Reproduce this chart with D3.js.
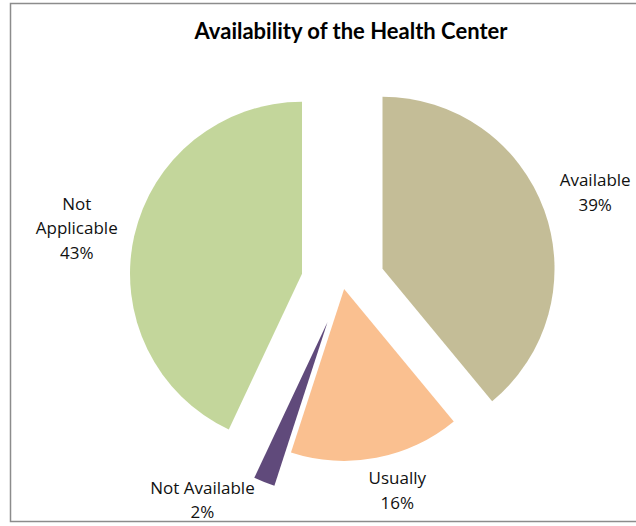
<!DOCTYPE html>
<html>
<head>
<meta charset="utf-8">
<script src="https://cdn.jsdelivr.net/npm/d3@7"></script>
<style>
  body { margin: 0; background: #fff; }
  svg { display: block; font-family: "Open Sans", Lato, sans-serif; }
</style>
</head>
<body>
<div id="chart"></div>
<script>
// data
const categories = ["Available", "Usually", "Not Available", "Not Applicable"];
const values = [39, 16, 2, 43];
const colors = ["#C4BD97", "#FAC090", "#604A7B", "#C3D69B"];
const explode = [42, 6, 42, 42];         // px pulled out from the center
const labelRadius = [226, 208, 217, 230];
const labelTurn = [0, -4, 13.6, -1];     // degrees, label nudges like excel does

const width = 636, height = 526;
const cx = 343, cy = 283, radius = 172;

const svg = d3.select("#chart") // create the SVG
  .append("svg")
  .attr("width", width)
  .attr("height", height);

svg.append("rect") // chart frame
  .attr("x", 10.5)
  .attr("y", 3.5)
  .attr("width", 700)
  .attr("height", 518)
  .attr("fill", "#fff")
  .attr("stroke", "#8c8c8c")
  .attr("stroke-width", 1.5);

svg.append("text") // title
  .attr("x", 351)
  .attr("y", 30)
  .attr("text-anchor", "middle")
  .attr("dominant-baseline", "central")
  .attr("font-family", "Lato, sans-serif")
  .attr("font-size", 22)
  .attr("font-weight", "bold")
  .text("Availability of the Health Center");

const total = d3.sum(values);
const slices = d3.pie().sort(null)(values);
const arc = d3.arc().innerRadius(0).outerRadius(radius);

const g = svg.append("g")
  .attr("transform", `translate(${cx},${cy})`);

const dir = a => [Math.sin(a), -Math.cos(a)];

g.selectAll("path") // slices
  .data(slices)
  .enter()
  .append("path")
  .attr("d", arc)
  .attr("fill", (d, i) => colors[i])
  .attr("transform", (d, i) => {
    const [dx, dy] = dir((d.startAngle + d.endAngle) / 2);
    return `translate(${dx * explode[i]},${dy * explode[i]})`;
  });

const labels = g.selectAll("g.label") // labels
  .data(slices)
  .enter()
  .append("g")
  .attr("class", "label")
  .attr("transform", (d, i) => {
    const mid = (d.startAngle + d.endAngle) / 2;
    const [ex, ey] = dir(mid);
    const [lx, ly] = dir(mid + labelTurn[i] * Math.PI / 180);
    return `translate(${ex * explode[i] + lx * labelRadius[i]},${ey * explode[i] + ly * labelRadius[i]})`;
  });

labels.each(function(d, i) {
  const name = categories[i];
  const pct = Math.round(values[i] / total * 100) + "%";
  const lines = name === "Not Applicable" ? ["Not", "Applicable", pct] : [name, pct];
  const lh = 24.5;
  d3.select(this).selectAll("text")
    .data(lines)
    .enter()
    .append("text")
    .attr("text-anchor", "middle")
    .attr("dominant-baseline", "central")
    .attr("y", (t, j) => (j - (lines.length - 1) / 2) * lh)
    .attr("font-size", 17)
    .attr("fill", "#111")
    .text(t => t);
});
</script>
</body>
</html>
